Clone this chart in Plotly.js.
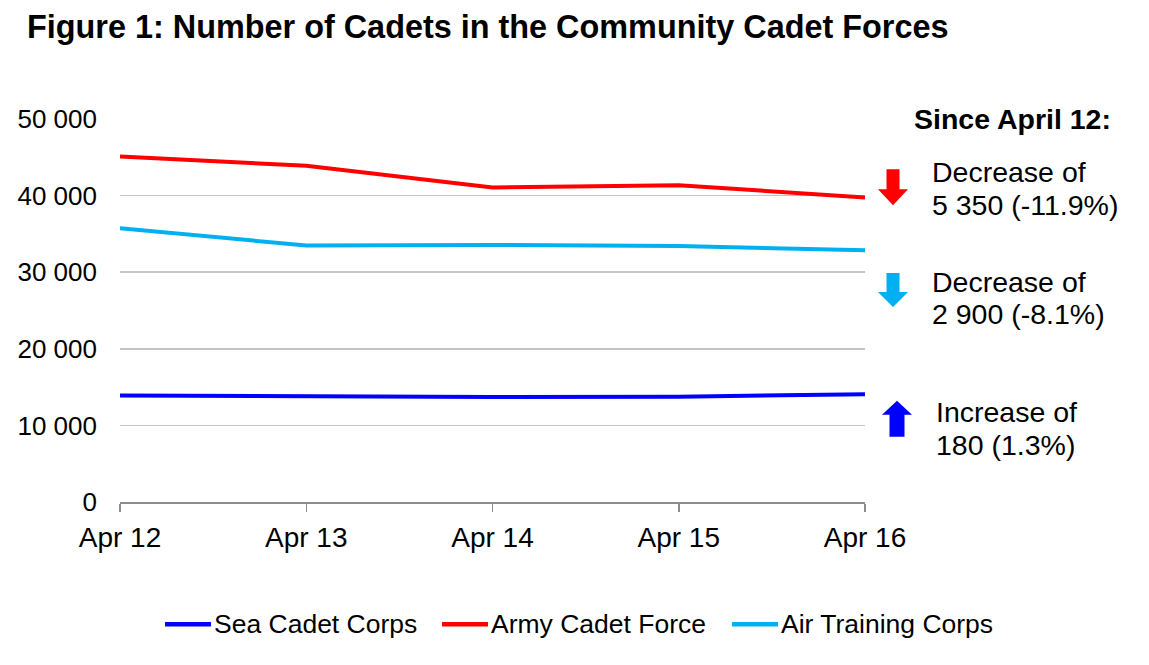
<!DOCTYPE html>
<html>
<head>
<meta charset="utf-8">
<script src="https://cdn.plot.ly/plotly-3.0.1.min.js"></script>
<style>
  html, body { margin: 0; padding: 0; background: #fff; }
  #chart { width: 1149px; height: 665px; }
</style>
</head>
<body>
<div id="chart"></div>
<script>
// data
var months = ["Apr 12", "Apr 13", "Apr 14", "Apr 15", "Apr 16"];
var seaCadets = [13900, 13800, 13700, 13750, 14080];
var armyCadets = [45100, 43900, 41050, 41350, 39750];
var airCadets = [35750, 33480, 33560, 33420, 32850];
var yTicks = [0, 10000, 20000, 30000, 40000, 50000];

var seriesNames = ["Sea Cadet Corps", "Army Cadet Force", "Air Training Corps"];
var seriesColors = ["#0000ff", "#ff0000", "#00b0f0"];

// side notes: [line 1, line 2]
var notes = [
  ["Decrease of", "5 350 (-11.9%)"],
  ["Decrease of", "2 900 (-8.1%)"],
  ["Increase of", "180 (1.3%)"]
];

var W = 1149, H = 665;
var L = 120, R = 865, T = 118.5, B = 502.5;
var FONT = "Liberation Sans, Arial, sans-serif";

// pixel -> paper helpers for the decorations outside the plot
function px(x) { return (x - L) / (R - L); }
function py(y) { return (B - y) / (B - T); }

function arrowPath(cx, top, headY, tip, shaftHalf, headHalf) {
  // block arrow; tip below top means pointing down
  var p = [
    [cx - shaftHalf, top], [cx + shaftHalf, top], [cx + shaftHalf, headY],
    [cx + headHalf, headY], [cx, tip], [cx - headHalf, headY], [cx - shaftHalf, headY]
  ];
  return p.map(function (q, i) {
    return (i === 0 ? "M" : "L") + px(q[0]) + "," + py(q[1]);
  }).join(" ") + " Z";
}

var traces = [seaCadets, armyCadets, airCadets].map(function (ys, i) {
  return {
    type: "scatter",
    mode: "lines",
    name: seriesNames[i],
    x: months,
    y: ys,
    line: { color: seriesColors[i], width: 4 },
    hoverinfo: "x+y",
    showlegend: false
  };
});

var shapes = [
  { type: "path", xref: "paper", yref: "paper", path: arrowPath(893, 169, 189, 205, 6.5, 15),
    fillcolor: seriesColors[1], line: { width: 0 } },
  { type: "path", xref: "paper", yref: "paper", path: arrowPath(893, 273, 292, 307, 6.5, 15),
    fillcolor: seriesColors[2], line: { width: 0 } },
  { type: "path", xref: "paper", yref: "paper", path: arrowPath(897, 437, 415, 401, 7.5, 15),
    fillcolor: seriesColors[0], line: { width: 0 } }
];

function textLine(str, x, y) {
  return {
    xref: "paper", yref: "paper", x: px(x), y: py(y), xanchor: "left", yanchor: "middle",
    text: str, showarrow: false, align: "left",
    font: { family: FONT, size: 28.5, color: "#000" }
  };
}

var annotations = [
  { xref: "paper", yref: "paper", x: px(912), y: py(119), xanchor: "left", yanchor: "middle",
    text: "<b>Since April 12:</b>", showarrow: false,
    font: { family: FONT, size: 28.5, color: "#000" } },
  textLine(notes[0][0], 930, 172),
  textLine(notes[0][1], 930, 205),
  textLine(notes[1][0], 930, 282),
  textLine(notes[1][1], 930, 314),
  textLine(notes[2][0], 934, 412),
  textLine(notes[2][1], 934, 445)
];

// legend row under the chart (the built-in one wraps at this font size)
var legendX = [163, 440, 730];
seriesNames.forEach(function (name, i) {
  shapes.push({
    type: "line", xref: "paper", yref: "paper",
    x0: px(legendX[i] + 2), x1: px(legendX[i] + 48), y0: py(625), y1: py(625),
    line: { color: seriesColors[i], width: 4.5 }
  });
  annotations.push({
    xref: "paper", yref: "paper", x: px(legendX[i] + 49), y: py(625),
    xanchor: "left", yanchor: "middle", text: name, showarrow: false,
    font: { family: FONT, size: 26.5, color: "#000" }
  });
});

var layout = {
  width: W,
  height: H,
  margin: { l: L, r: W - R, t: T, b: H - B },
  paper_bgcolor: "#fff",
  plot_bgcolor: "#fff",
  separators: ". ",
  font: { family: FONT, size: 26, color: "#000" },
  title: {
    text: "<b>Figure 1: Number of Cadets in the Community Cadet Forces</b>",
    xref: "container", yref: "container",
    x: 27 / W, xanchor: "left",
    y: 1 - 27 / H, yanchor: "middle",
    font: { family: FONT, size: 32.4, color: "#000" }
  },
  xaxis: {
    type: "category",
    range: [0, months.length - 1],
    showgrid: false,
    showline: true,
    linecolor: "#8c8c8c",
    linewidth: 1.5,
    ticks: "outside",
    ticklen: 8,
    tickwidth: 1.5,
    tickcolor: "#8c8c8c",
    ticklabelstandoff: 2,
    tickfont: { family: FONT, size: 28, color: "#000" },
    fixedrange: true
  },
  yaxis: {
    range: [0, 50000],
    tickvals: yTicks,
    tickformat: ",d",
    showgrid: true,
    gridcolor: "#c4c4c4",
    gridwidth: 1.5,
    zeroline: false,
    showline: false,
    ticks: "",
    ticklabelstandoff: 22,
    tickfont: { family: FONT, size: 26, color: "#000" },
    fixedrange: true
  },
  showlegend: false,
  shapes: shapes,
  annotations: annotations
};

Plotly.newPlot("chart", traces, layout, { displayModeBar: false, staticPlot: true });
</script>
</body>
</html>
